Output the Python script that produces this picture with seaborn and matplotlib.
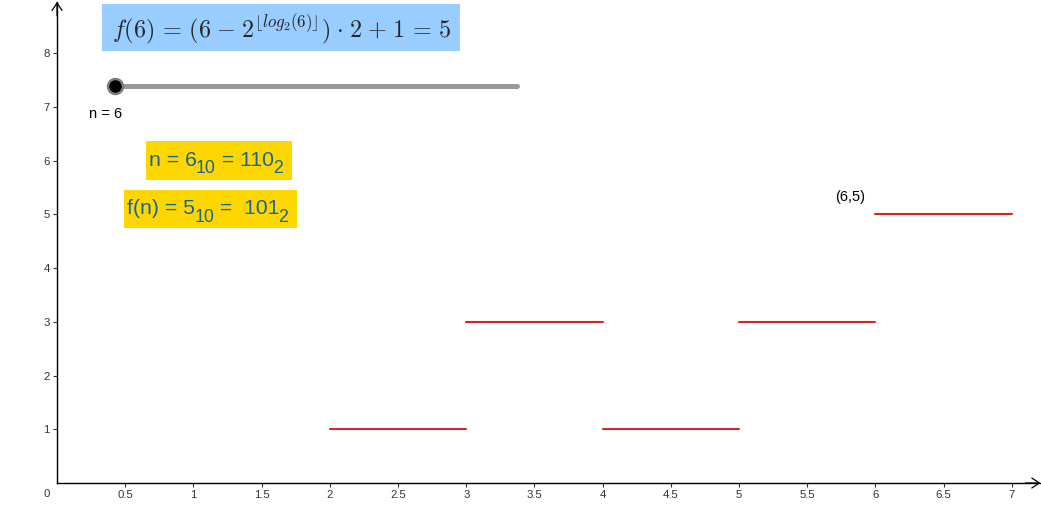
import matplotlib
matplotlib.use("Agg")
import matplotlib.pyplot as plt
import seaborn as sns
import pandas as pd
from matplotlib.patches import Rectangle

# ---- data ----
seg_start = [2, 3, 4, 5, 6]
seg_end = [3, 4, 5, 6, 7]
seg_value = [1, 3, 1, 3, 5]
x_ticks = [0.5, 1, 1.5, 2, 2.5, 3, 3.5, 4, 4.5, 5, 5.5, 6, 6.5, 7]
x_tick_labels = ["0.5", "1", "1.5", "2", "2.5", "3", "3.5", "4", "4.5", "5", "5.5", "6", "6.5", "7"]
y_ticks = [1, 2, 3, 4, 5, 6, 7, 8]
y_tick_labels = ["1", "2", "3", "4", "5", "6", "7", "8"]
n_value = 6
f_value = 5
n_binary = "110"
f_binary = "101"
slider_min, slider_max = 0.425, 3.372

rows = []
for i, (a, b, v) in enumerate(zip(seg_start, seg_end, seg_value)):
    rows.append({"seg": i, "x": a, "y": v})
    rows.append({"seg": i, "x": b, "y": v})
df = pd.DataFrame(rows)

sns.set_theme(style="white")
plt.rcParams["font.family"] = ["Liberation Sans", "DejaVu Sans"]

fig = plt.figure(figsize=(10.41, 5.15), dpi=100)
ax = fig.add_axes([0, 0, 1, 1])
X0, X1, Y0, Y1 = -0.418, 7.214, -0.596, 8.994
ax.set_xlim(X0, X1)
ax.set_ylim(Y0, Y1)


def px2x(px):
    return X0 + (X1 - X0) * px / 1041.0


def px2y(py):
    return Y1 - (Y1 - Y0) * py / 515.0


sns.lineplot(data=df, x="x", y="y", units="seg", estimator=None,
             color="#dd2222", linewidth=1.5, ax=ax, legend=False)

# axes through origin
for s in ["top", "right"]:
    ax.spines[s].set_visible(False)
ax.spines["left"].set_position(("data", 0))
ax.spines["bottom"].set_position(("data", 0))
ax.spines["left"].set_bounds(0, 8.957)
ax.spines["bottom"].set_bounds(0, 7.207)
for s in ["left", "bottom"]:
    ax.spines[s].set_color("black")
    ax.spines[s].set_linewidth(1.0)
ax.annotate("", xy=(7.21, 0), xytext=(7.1, 0),
            arrowprops=dict(arrowstyle="->,head_length=0.45,head_width=0.3",
                            lw=0.9, color="black", shrinkA=0, shrinkB=0))
ax.annotate("", xy=(0, 8.96), xytext=(0, 8.7),
            arrowprops=dict(arrowstyle="->,head_length=0.45,head_width=0.3",
                            lw=0.9, color="black", shrinkA=0, shrinkB=0))

ax.set_xticks(x_ticks)
ax.set_xticklabels(x_tick_labels)
ax.set_yticks(y_ticks)
ax.set_yticklabels(y_tick_labels)
ax.tick_params(axis="both", direction="out", length=3, width=0.8,
               colors="#333333", labelsize=8.2, pad=2.3)
ax.tick_params(axis="y", pad=2.2)
ax.tick_params(bottom=True, left=True)
ax.set_xlabel("")
ax.set_ylabel("")
ax.grid(False)
ax.text(px2x(47), px2y(494), "0", ha="center", va="center", fontsize=8.2, color="#333333")

# title box
ax.add_patch(Rectangle((px2x(102), px2y(51)), px2x(460) - px2x(102), px2y(4) - px2y(51),
                       facecolor="#99ccff", edgecolor="none", zorder=3))
ax.text(px2x(281.5), px2y(29),
        r"$f(%d)\,=\,(%d\hspace{0.09}-\hspace{0.09}2^{\lfloor log_2(%d) \rfloor})"
        r"\hspace{0.09}\cdot\hspace{0.09}2\hspace{0.09}+\hspace{0.09}1\,=\,%d$"
        % (n_value, n_value, n_value, f_value),
        ha="center", va="center", fontsize=17.4, math_fontfamily="cm", zorder=4)

# slider
ax.plot([slider_min, slider_max], [7.393, 7.393], color="#999999", lw=3.6,
        solid_capstyle="round", zorder=3)
ax.plot([slider_min], [7.393], marker="o", markersize=11.5, color="#888888",
        markeredgecolor="#777777", zorder=4)
ax.plot([slider_min], [7.393], marker="o", markersize=8, color="black", zorder=5)
ax.text(px2x(106), px2y(114), "n = %d" % n_value, ha="center", va="center",
        fontsize=10.5, color="black")

# yellow boxes
txt_color = "#1a6496"
ax.add_patch(Rectangle((px2x(146), px2y(179.5)), px2x(292) - px2x(146), px2y(141) - px2y(179.5),
                       facecolor="#ffd700", edgecolor="none", zorder=3))
ax.add_patch(Rectangle((px2x(124), px2y(228.3)), px2x(297) - px2x(124), px2y(190) - px2y(228.3),
                       facecolor="#ffd700", edgecolor="none", zorder=3))


def chain(pieces, left_px, base_px, drop_pts, fs_main=15.3, fs_sub=12.8):
    y = px2y(base_px)
    prev = ax.text(px2x(left_px), y, pieces[0], ha="left", va="baseline",
                   fontsize=fs_main, color=txt_color, zorder=4)
    for k, s in enumerate(pieces[1:], start=1):
        is_sub = (k % 2 == 1)
        prev = ax.annotate(s, xy=(1, y), xycoords=(prev, "data"),
                           xytext=(-0.6 if is_sub else 0, -drop_pts if is_sub else 0),
                           textcoords="offset points", ha="left", va="baseline",
                           fontsize=fs_sub if is_sub else fs_main,
                           color=txt_color, zorder=4)


chain(["n = %d" % n_value, "10", " = " + n_binary, "2"], 149.0, 165.5, 5.5)
chain(["f(n) = %d" % f_value, "10", " =  " + f_binary, "2"], 127.0, 214.5, 5.5)

# point label
ax.text(px2x(850), px2y(197), "(%d,%d)" % (n_value, f_value), ha="center", va="center",
        fontsize=10.5, color="black")

fig.savefig("out.png", dpi=100)
